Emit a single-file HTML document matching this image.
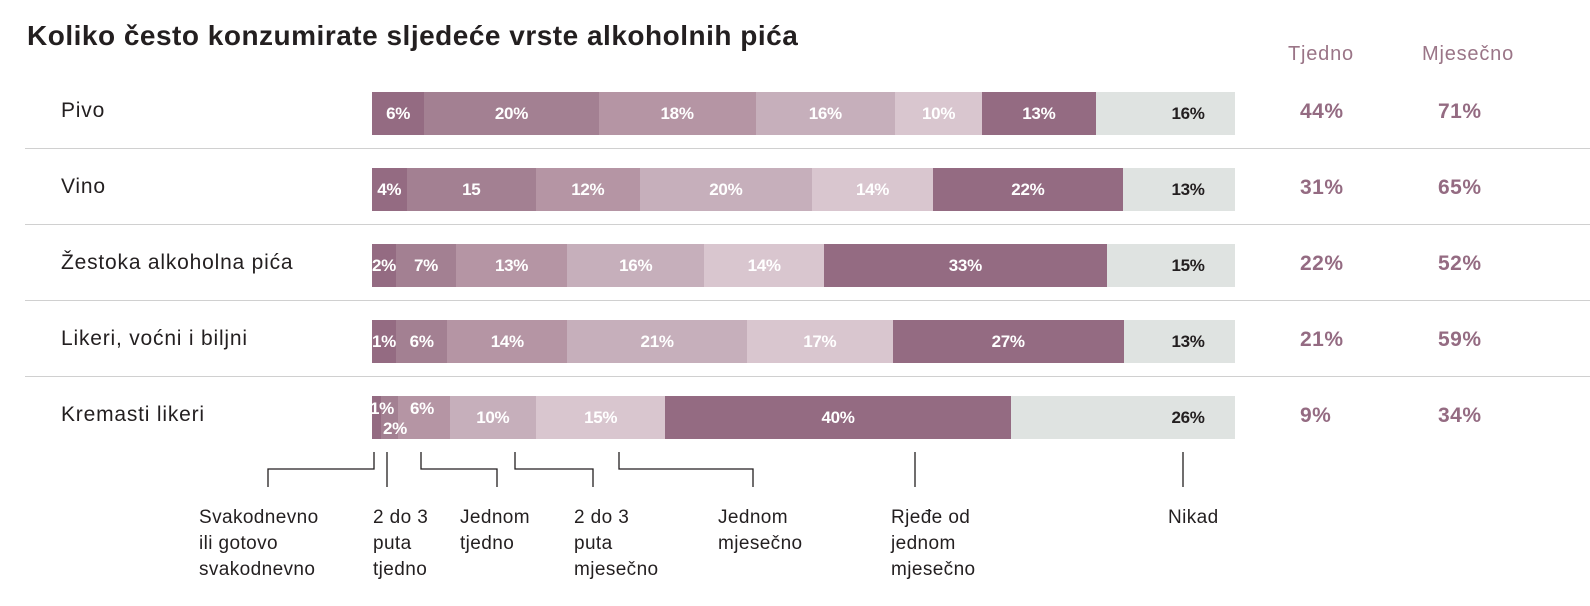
<!DOCTYPE html>
<html><head><meta charset="utf-8"><style>
body{margin:0;width:1590px;height:606px;background:#fff;position:relative;font-family:"Liberation Sans",sans-serif;color:#231f20;overflow:hidden}
.a{position:absolute}
.title{left:27px;top:20px;font-size:28px;font-weight:bold;white-space:nowrap;letter-spacing:0.5px}
.lab{left:61px;font-size:21px;white-space:nowrap;letter-spacing:0.8px}
.sep{left:25px;width:1565px;height:1px;background:#d0d0d0}
.bar{left:372px;width:863px;height:43px;display:flex}
.bar div{height:43px;line-height:43px;text-align:center;color:#fff;font-weight:bold;font-size:17px;letter-spacing:-0.3px;overflow:visible;white-space:nowrap}
.c1{background:#946b82}.c2{background:#a38092}.c3{background:#b595a4}.c4{background:#c6afbb}.c5{background:#d9c6cf}.c6{background:#946b82}.c7{background:#dfe3e1}
.nk{left:1166px;width:44px;text-align:center;font-size:17px;font-weight:bold;letter-spacing:-0.3px;color:#231f20}
.hd{font-size:20px;color:#9a7587;top:43px;letter-spacing:0.8px}
.v{font-size:21px;font-weight:bold;color:#946b82;letter-spacing:0.5px}
.bl{font-size:19px;line-height:26px;top:505px;letter-spacing:0.4px}
.sm{color:#fff;font-weight:bold;font-size:17px;letter-spacing:-0.3px}
</style></head><body>
<div class="a title">Koliko često konzumirate sljedeće vrste alkoholnih pića</div>
<div class="a hd" style="left:1288px">Tjedno</div>
<div class="a hd" style="left:1422px">Mjesečno</div>

<div class="a lab" style="top:99px">Pivo</div>
<div class="a lab" style="top:175px">Vino</div>
<div class="a lab" style="top:251px">Žestoka alkoholna pića</div>
<div class="a lab" style="top:327px">Likeri, voćni i biljni</div>
<div class="a lab" style="top:403px">Kremasti likeri</div>

<div class="a sep" style="top:148px"></div>
<div class="a sep" style="top:224px"></div>
<div class="a sep" style="top:300px"></div>
<div class="a sep" style="top:376px"></div>

<div class="a bar" style="top:92px"><div class="c1" style="flex:6">6%</div><div class="c2" style="flex:20">20%</div><div class="c3" style="flex:18">18%</div><div class="c4" style="flex:16">16%</div><div class="c5" style="flex:10">10%</div><div class="c6" style="flex:13">13%</div><div class="c7" style="flex:16"></div></div>
<div class="a bar" style="top:168px"><div class="c1" style="flex:4">4%</div><div class="c2" style="flex:15">15</div><div class="c3" style="flex:12">12%</div><div class="c4" style="flex:20">20%</div><div class="c5" style="flex:14">14%</div><div class="c6" style="flex:22">22%</div><div class="c7" style="flex:13"></div></div>
<div class="a bar" style="top:244px"><div class="c1" style="flex:2">2%</div><div class="c2" style="flex:7">7%</div><div class="c3" style="flex:13">13%</div><div class="c4" style="flex:16">16%</div><div class="c5" style="flex:14">14%</div><div class="c6" style="flex:33">33%</div><div class="c7" style="flex:15"></div></div>
<div class="a bar" style="top:320px"><div class="c1" style="flex:1">1%</div><div class="c2" style="flex:6">6%</div><div class="c3" style="flex:14">14%</div><div class="c4" style="flex:21">21%</div><div class="c5" style="flex:17">17%</div><div class="c6" style="flex:27">27%</div><div class="c7" style="flex:13"></div></div>
<div class="a bar" style="top:396px"><div class="c1" style="flex:1"></div><div class="c2" style="flex:2"></div><div class="c3" style="flex:6"></div><div class="c4" style="flex:10">10%</div><div class="c5" style="flex:15">15%</div><div class="c6" style="flex:40">40%</div><div class="c7" style="flex:26"></div></div>
<div class="a sm" style="left:370px;top:399px">1%</div>
<div class="a sm" style="left:383px;top:419px">2%</div>
<div class="a sm" style="left:410px;top:399px">6%</div>

<div class="a nk" style="top:104px">16%</div>
<div class="a nk" style="top:180px">13%</div>
<div class="a nk" style="top:256px">15%</div>
<div class="a nk" style="top:332px">13%</div>
<div class="a nk" style="top:408px">26%</div>

<div class="a v" style="left:1300px;top:100px">44%</div><div class="a v" style="left:1438px;top:100px">71%</div>
<div class="a v" style="left:1300px;top:176px">31%</div><div class="a v" style="left:1438px;top:176px">65%</div>
<div class="a v" style="left:1300px;top:252px">22%</div><div class="a v" style="left:1438px;top:252px">52%</div>
<div class="a v" style="left:1300px;top:328px">21%</div><div class="a v" style="left:1438px;top:328px">59%</div>
<div class="a v" style="left:1300px;top:404px">9%</div><div class="a v" style="left:1438px;top:404px">34%</div>

<svg class="a" style="left:0;top:0" width="1590" height="606">
<g stroke="#231f20" stroke-width="1.3" fill="none">
<polyline points="374,452 374,469 268,469 268,487"/>
<polyline points="387,452 387,487"/>
<polyline points="421,452 421,469 497,469 497,487"/>
<polyline points="515,452 515,469 593,469 593,487"/>
<polyline points="619,452 619,469 753,469 753,487"/>
<polyline points="915,452 915,487"/>
<polyline points="1183,452 1183,487"/>
</g></svg>

<div class="a bl" style="left:199px">Svakodnevno<br>ili gotovo<br>svakodnevno</div>
<div class="a bl" style="left:373px">2 do 3<br>puta<br>tjedno</div>
<div class="a bl" style="left:460px">Jednom<br>tjedno</div>
<div class="a bl" style="left:574px">2 do 3<br>puta<br>mjesečno</div>
<div class="a bl" style="left:718px">Jednom<br>mjesečno</div>
<div class="a bl" style="left:891px">Rjeđe od<br>jednom<br>mjesečno</div>
<div class="a bl" style="left:1168px">Nikad</div>
</body></html>
